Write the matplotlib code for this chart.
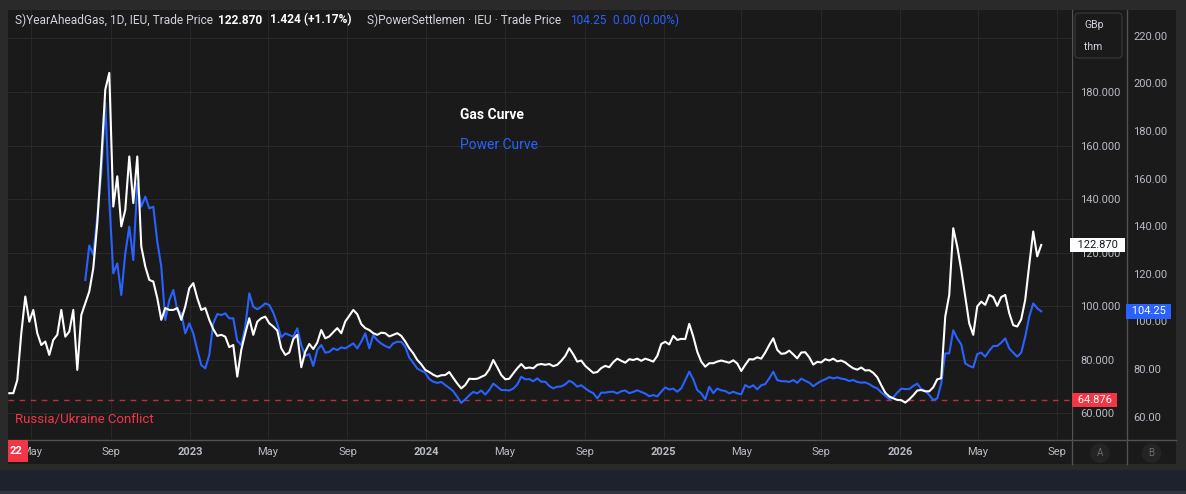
import numpy as np
import pandas as pd
import matplotlib
matplotlib.use('Agg')
import matplotlib.pyplot as plt
import matplotlib.transforms as mtransforms
from matplotlib.patches import Rectangle, FancyBboxPatch
from matplotlib.lines import Line2D

plt.rcParams['font.family'] = ['Roboto', 'DejaVu Sans']

W, H, DPI = 1186, 494, 100

# year ahead gas (GBp/thm), sampled roughly weekly between these dates
start_date = '2022-03-28'
end_date = '2026-08-07'
gas = [
    67.5, 67.5, 72.4, 89.9, 103.6, 94.2, 98.6, 89.9, 85.5, 86.8,
    81.8, 87.4, 89.3, 98.6, 88.6, 90.5, 98.6, 76.2, 96.7, 101.1,
    105.5, 114.2, 131.0, 154.7, 180.9, 187.1, 137.2, 148.5, 129.8, 136.0,
    155.9, 138.5, 155.9, 122.3, 114.8, 109.8, 109.2, 103.0, 94.9, 99.3,
    98.6, 98.6, 99.3, 94.9, 99.9, 106.7, 108.6, 103.0, 98.6, 99.3,
    94.9, 91.4, 88.9, 89.3, 88.6, 84.7, 85.5, 73.7, 83.7, 89.9,
    95.5, 89.3, 94.2, 95.5, 96.1, 93.6, 92.4, 90.9,
    84.3, 81.8, 82.7, 87.7, 89.3, 77.2, 83.0, 85.9, 84.0, 86.4,
    91.1, 88.0, 88.7, 90.3, 91.8, 89.9, 94.3, 96.4, 98.6, 97.0,
    93.3, 91.8, 91.1, 89.9, 89.3, 90.1, 89.9, 88.7, 89.3, 89.9,
    88.9, 86.8, 84.3, 82.4, 79.9, 78.3, 76.2, 75.4, 74.4, 73.7,
    74.2, 74.3, 75.4, 73.2, 71.1, 69.3, 70.6, 72.9, 72.8, 72.9,
    73.6, 74.3, 76.4, 79.9, 77.2, 74.3, 72.7, 72.9, 74.9, 76.8,
    78.4, 76.8, 77.1, 76.8, 78.1, 78.4, 78.1, 78.4, 77.6, 78.1,
    79.6, 81.4, 84.3, 82.0, 79.3, 79.7, 77.7, 76.4, 75.1, 75.4,
    76.9, 77.7, 77.2, 79.1, 80.4, 79.6, 78.9, 80.2, 79.9, 80.4,
    79.6, 80.4, 79.9, 79.3, 81.4, 85.9, 86.7, 85.7,
    88.9, 87.4, 87.8, 87.7, 93.4, 88.7, 83.0, 79.3, 77.4, 78.7,
    78.7, 79.3, 79.7, 79.3, 78.9, 79.8, 78.6, 75.8, 78.1, 80.2,
    80.1, 80.9, 80.4, 82.7, 85.5, 88.0, 83.7, 82.2, 82.4, 83.4,
    82.0, 80.5, 82.7, 82.8, 80.9, 78.2, 79.2, 79.0, 80.2, 79.7,
    80.4, 79.4, 79.7, 79.0, 77.8, 76.8, 76.3, 77.1, 76.0, 76.1,
    75.1, 73.5, 70.5, 67.7, 66.3, 65.6, 65.0, 64.9, 64.0, 65.2,
    66.7, 68.5, 68.7, 68.2, 68.2, 69.7, 72.7,
    73.1, 96.1, 104.2, 129.1, 122.3, 113.6, 103.6, 93.6, 89.3, 99.9,
    101.7, 100.5, 104.2, 103.4, 100.1, 103.4, 104.2, 97.4, 92.9, 92.4,
    95.1, 102.4, 115.4, 127.9, 118.6, 122.87,
]

# power settlement, same sampling, first value 19 samples after gas starts
power_start = 19
power = [
    117.4, 131.9, 128.0, 144.0, 162.3, 191.7, 151.0, 120.2, 124.4, 111.1,
    128.6, 139.8, 125.8, 158.0, 148.2, 152.4, 147.5, 148.2, 133.5, 123.0,
    100.6, 109.0, 113.2, 104.8, 103.4, 95.0, 99.2, 95.0, 88.0, 81.7,
    80.3, 85.9, 99.2, 103.1, 102.7, 103.4, 101.3, 101.3, 91.9, 90.1,
    97.8, 111.8, 106.2, 105.1, 106.2, 107.6, 106.9, 103.7, 99.0,
    93.3, 95.0, 94.3, 93.6, 97.1, 90.1, 85.5, 86.3, 81.3, 88.0,
    90.1, 86.9, 87.2, 88.7, 88.0, 89.1, 88.7, 89.7, 90.8, 88.7,
    91.5, 95.0, 88.7, 94.2, 92.1, 90.7, 89.7, 88.9, 90.8, 91.5,
    91.4, 89.4, 84.8, 82.6, 80.2, 79.3, 78.5, 75.8, 74.7, 74.2,
    74.6, 73.3, 72.1, 70.7, 68.3, 65.8, 67.3, 69.0, 70.4, 69.8,
    71.0, 69.3, 71.2, 73.9, 72.6, 71.2, 71.2, 71.0, 71.8, 73.5,
    76.8, 75.7, 75.8, 74.9, 76.1, 74.7, 74.7, 72.9, 71.9, 72.6,
    72.7, 73.6, 75.1, 74.2, 72.6, 73.2, 71.9, 70.7, 69.9, 67.7,
    70.1, 70.1, 70.4, 70.5, 69.8, 70.7, 71.0, 69.9, 70.4, 71.1,
    70.4, 69.7, 68.6, 69.1, 68.5, 70.5, 72.3, 71.4,
    71.8, 70.5, 71.9, 75.4, 78.9, 75.7, 71.2, 69.8, 67.3, 72.6,
    69.9, 71.8, 71.1, 70.8, 69.8, 70.5, 69.8, 69.4, 73.3, 72.3,
    73.2, 71.5, 73.2, 73.7, 76.1, 78.9, 75.4, 74.9, 74.9, 74.6,
    75.4, 74.2, 76.0, 75.1, 74.3, 72.8, 74.0, 75.0, 75.7, 76.6,
    76.1, 76.5, 76.0, 75.7, 75.0, 75.4, 74.6, 74.3, 74.4, 73.7,
    72.6, 71.9, 70.2, 68.8, 67.4, 68.1, 70.1, 71.8, 71.6, 71.6,
    72.9, 73.9, 71.6, 70.9, 69.1, 67.0, 67.7,
    74.0, 86.6, 86.6, 96.3, 92.9, 90.4, 82.4, 81.3, 80.7, 86.3,
    86.9, 85.2, 87.7, 89.7, 89.7, 91.1, 92.9, 88.7, 86.9, 85.2,
    86.9, 93.6, 102.0, 107.6, 105.5, 104.25,
]

gas_last = 122.870
gas_change = '1.424 (+1.17%)'
power_last = 104.25
power_change = '0.00 (0.00%)'
conflict_level = 64.876

gas_ticks = [60, 80, 100, 120, 140, 160, 180, 200]
power_ticks = [60, 80, 100, 120, 140, 160, 180, 200, 220]
month_ticks = pd.date_range('2022-05-01', '2026-09-01', freq='4MS')
month_labels = [str(d.year) if d.month == 1 else d.strftime('%b') for d in month_ticks]

BG = '#1a1a1a'
OUTER = '#2a2a2a'
SEP = '#525252'
TXT = '#b8bbc3'
WHITE = '#ffffff'
BLUE = '#2962ff'
RED = '#f23645'

dates = pd.date_range(start_date, end_date, periods=len(gas))
power_dates = dates[power_start:power_start + len(power)]

fig = plt.figure(figsize=(W / DPI, H / DPI), dpi=DPI, facecolor=OUTER)
inch = fig.dpi_scale_trans


def rect(x0, y0, x1, y1, color, z=-5):
    fig.add_artist(Rectangle((x0 / DPI, (H - y1) / DPI), (x1 - x0) / DPI, (y1 - y0) / DPI,
                             transform=inch, facecolor=color, edgecolor='none', zorder=z))


def hline(x0, y0, x1, y1, color=SEP):
    fig.add_artist(Line2D([x0 / DPI, x1 / DPI], [(H - y0) / DPI, (H - y1) / DPI],
                          transform=inch, color=color, lw=1, zorder=-4))


def label(x, y, s, **kw):
    kw.setdefault('va', 'center')
    return fig.text(x / DPI, (H - y) / DPI, s, transform=inch, **kw)


# panel, price scales, bottom strip
rect(8, 10, 1176, 464, BG)
rect(0, 470, W, 491, '#1e222d')
rect(0, 491, W, H, '#30333c')
hline(1072, 10, 1072, 464)
hline(1126.5, 10, 1126.5, 464)
hline(8, 439.5, 1176, 439.5)

ax_rect = [8 / W, (H - 439) / H, 1064 / W, 429 / H]
base = fig.add_axes(ax_rect, zorder=0)
base.set_facecolor(BG)
axPow = base.twinx()
axPow.set_zorder(1)
axPow.patch.set_visible(False)
axGas = fig.add_axes(ax_rect, sharex=base, sharey=base, zorder=2)
axGas.patch.set_visible(False)
axGas.axis('off')

base.axhline(conflict_level, color='#b5323c', lw=1, ls=(0, (4, 4)))
axPow.plot(power_dates, power, color=BLUE, lw=1.5)
axGas.plot(dates, gas, color=WHITE, lw=1.5)

base.set_xlim(pd.Timestamp('2022-03-26'), pd.Timestamp('2026-09-23 12:00'))
base.set_ylim(50.4, 210.6)
axPow.set_ylim(50.64, 230.79)

# the 200 label sits under the currency box, only its grid line shows
base.yaxis.tick_right()
base.set_yticks(gas_ticks)
base.set_yticklabels([f'{v:.3f}' if v < 200 else '' for v in gas_ticks])
base.tick_params(axis='y', length=0, pad=5.8, labelsize=8, labelcolor=TXT)
axPow.set_yticks(power_ticks)
axPow.set_yticklabels([f'{v:.2f}' for v in power_ticks])
axPow.tick_params(axis='y', length=0, pad=44, labelsize=8, labelcolor=TXT)
base.set_xticks(month_ticks)
base.set_xticklabels(month_labels)
base.tick_params(axis='x', length=0, pad=5.5, labelsize=8, labelcolor=TXT)
for lbl, d in zip(base.get_xticklabels(), month_ticks):
    if d.month == 1:
        lbl.set_fontweight('bold')
base.grid(True, color='#282828', lw=0.8)
base.set_axisbelow(True)
for a in (base, axPow):
    for s in a.spines.values():
        s.set_visible(False)

# header
label(15, 20, 'S)YearAheadGas, 1D, IEU, Trade Price', color='#d1d4dc', fontsize=8.6)
label(218, 20, f'{gas_last:.3f}', color=WHITE, fontsize=8.6, fontweight='bold')
label(270, 20, gas_change, color=WHITE, fontsize=8.6, fontweight='bold')
label(367, 20, 'S)PowerSettlemen \u00b7 IEU \u00b7 Trade Price', color='#d1d4dc', fontsize=8.6)
label(570, 20, f'{power_last:.2f}', color=BLUE, fontsize=8.6)
label(613, 20, power_change, color=BLUE, fontsize=8.6)

label(460, 115, 'Gas Curve', color=WHITE, fontsize=10, fontweight='bold')
label(460, 145, 'Power Curve', color=BLUE, fontsize=10)
label(15, 419, 'Russia/Ukraine Conflict', color=RED, fontsize=9.5)

# currency box
fig.add_artist(FancyBboxPatch((1075 / DPI, (H - 58) / DPI), 47 / DPI, 45 / DPI,
                              boxstyle='round,pad=0,rounding_size=0.04', transform=inch,
                              facecolor=BG, edgecolor='#3a3a3a', lw=0.8, zorder=6))
label(1084, 25, 'GBp', color='#d1d4dc', fontsize=7.5, zorder=7)
label(1084, 47, 'thm', color='#d1d4dc', fontsize=7.5, zorder=7)

# price labels on the scales
gas_tr = mtransforms.blended_transform_factory(inch, base.transData)
pow_tr = mtransforms.blended_transform_factory(inch, axPow.transData)
fig.text(1097.5 / DPI, gas_last, f'  {gas_last:.3f}  ', transform=gas_tr, ha='center', va='center',
         fontsize=8, color='#131722', zorder=8,
         bbox=dict(boxstyle='square,pad=0.2', facecolor=WHITE, edgecolor='none'))
fig.text(1094.5 / DPI, conflict_level, f' {conflict_level:.3f} ', transform=gas_tr, ha='center',
         va='center', fontsize=8, color=WHITE, zorder=8,
         bbox=dict(boxstyle='square,pad=0.2', facecolor=RED, edgecolor='none'))
fig.text(1148.5 / DPI, power_last, f' {power_last:.2f} ', transform=pow_tr, ha='center', va='center',
         fontsize=8, color=WHITE, zorder=8,
         bbox=dict(boxstyle='square,pad=0.2', facecolor=BLUE, edgecolor='none'))

# date marker on the time scale
rect(8, 440, 28, 462, RED, z=8)
label(10, 451, '22', color=WHITE, fontsize=8, fontweight='bold', zorder=9)

# scale buttons
for x, s in ((1100, 'A'), (1151.5, 'B')):
    label(x, 453, s, color='#6a6d78', fontsize=7, ha='center', zorder=7,
          bbox=dict(boxstyle='circle,pad=0.5', facecolor='#242424', edgecolor='none'))

fig.savefig('out.png', dpi=DPI, facecolor=OUTER)
